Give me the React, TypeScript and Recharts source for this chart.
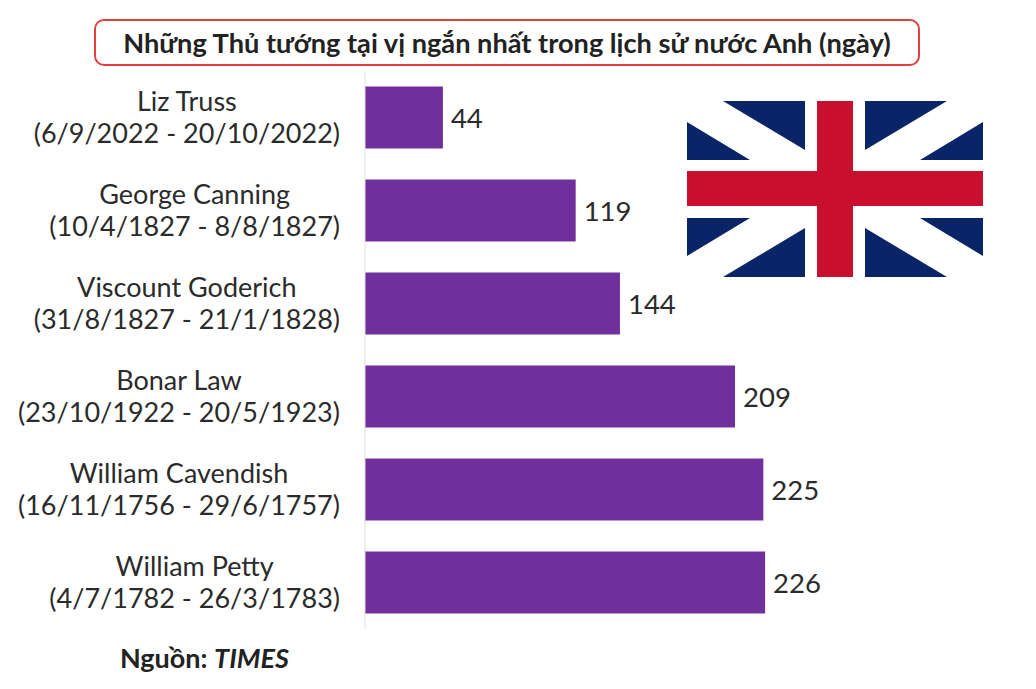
import { BarChart, Bar, XAxis, YAxis, LabelList } from 'recharts';

const names = ['Liz Truss', 'George Canning', 'Viscount Goderich', 'Bonar Law', 'William Cavendish', 'William Petty'];
const terms = [
  '(6/9/2022 - 20/10/2022)',
  '(10/4/1827 - 8/8/1827)',
  '(31/8/1827 - 21/1/1828)',
  '(23/10/1922 - 20/5/1923)',
  '(16/11/1756 - 29/6/1757)',
  '(4/7/1782 - 26/3/1783)',
];
const days = [44, 119, 144, 209, 225, 226];

const data = names.map((name, i) => ({ name, term: terms[i], days: days[i] }));
const FONT = 'Lato, sans-serif';

const measure = document.createElement('canvas').getContext('2d')!;
measure.font = `27px ${FONT}`;

// two line label: block is right aligned, the name centred over the dates
function NameTick({ x, y, payload, index }: any) {
  const right = x - 17;
  const center = right - measure.measureText(terms[index]).width / 2;
  return (
    <g fontFamily={FONT} fontSize={27} fill="#2b2b2b">
      <text x={center} y={y - 7} textAnchor="middle">{payload.value}</text>
      <text x={right} y={y + 25} textAnchor="end">{terms[index]}</text>
    </g>
  );
}

function Flag() {
  const navy = '#0a2468', red = '#c8102e';
  return (
    <svg style={{ position: 'absolute', left: 687, top: 101 }} width={296} height={176} viewBox="0 0 296 176">
      <polygon points="36,0 118,0 118,49" fill={navy} />
      <polygon points="0,21 63,59 0,59" fill={navy} />
      <polygon points="178,0 260,0 178,49" fill={navy} />
      <polygon points="296,21 296,59 233,59" fill={navy} />
      <polygon points="0,117 63,117 0,155" fill={navy} />
      <polygon points="118,127 118,176 36,176" fill={navy} />
      <polygon points="178,127 260,176 178,176" fill={navy} />
      <polygon points="233,117 296,117 296,155" fill={navy} />
      <rect x={130} y={0} width={36} height={176} fill={red} />
      <rect x={0} y={70} width={296} height={35} fill={red} />
    </svg>
  );
}

export default function App() {
  return (
    <div style={{ position: 'absolute', left: 0, top: 0, width: 1036, height: 689, background: '#fff', overflow: 'hidden' }}>
      <div
        style={{
          position: 'absolute', left: 94, top: 19, width: 826, height: 47, boxSizing: 'border-box',
          border: '2px solid #e0403f', borderRadius: 10, fontFamily: FONT, fontWeight: 700, fontSize: 27.2,
          color: '#222', textAlign: 'center', lineHeight: '43px', whiteSpace: 'nowrap',
        }}
      >
        Những Thủ tướng tại vị ngắn nhất trong lịch sử nước Anh (ngày)
      </div>
      <div style={{ position: 'absolute', left: 0, top: 0 }}>
        <BarChart
          width={1036}
          height={689}
          data={data}
          layout="vertical"
          margin={{ top: 71, right: 0, bottom: 60, left: 0 }}
          barCategoryGap="16.6%"
        >
          <XAxis type="number" hide domain={[0, 379]} />
          <YAxis
            type="category"
            dataKey="name"
            width={365}
            tickLine={false}
            axisLine={{ stroke: '#ddd' }}
            tick={<NameTick />}
            interval={0}
          />
          <Bar dataKey="days" fill="#70309b" isAnimationActive={false}>
            <LabelList dataKey="days" position="right" offset={8} dy={1} fontFamily={FONT} fontSize={27.5} fill="#2b2b2b" />
          </Bar>
        </BarChart>
      </div>
      <Flag />
      <div style={{ position: 'absolute', left: 120, top: 641, fontFamily: FONT, fontSize: 27, fontWeight: 700, color: '#222' }}>
        Nguồn: <i>TIMES</i>
      </div>
    </div>
  );
}
